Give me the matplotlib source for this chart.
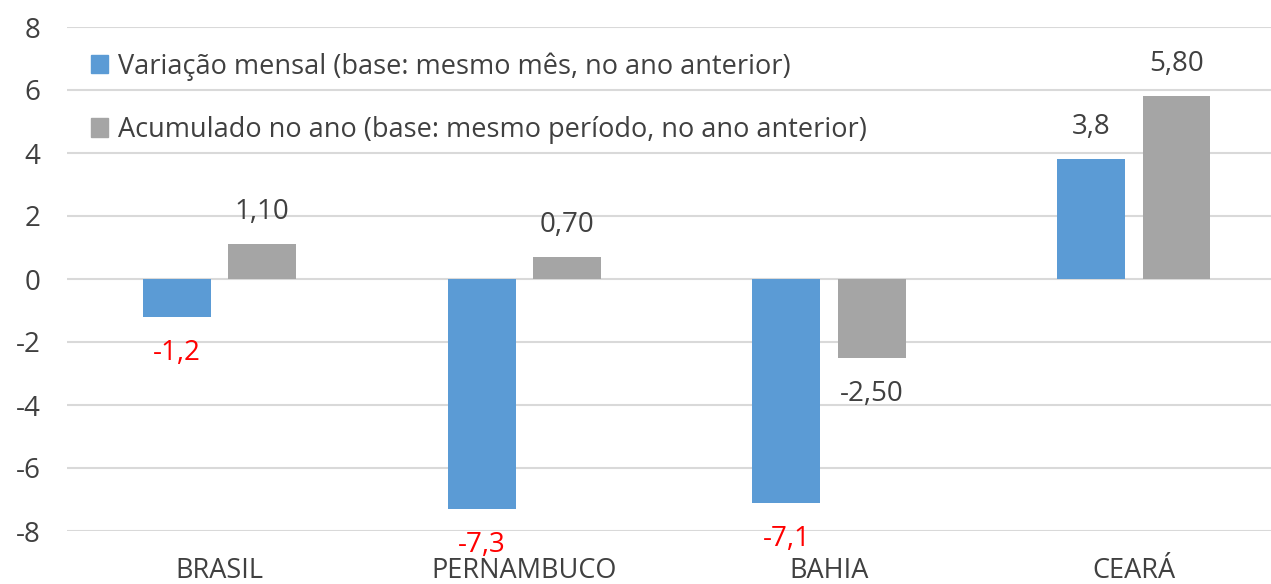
import matplotlib.pyplot as plt
import numpy as np
from matplotlib.patches import Patch

# chart data
categories = ['BRASIL', 'PERNAMBUCO', 'BAHIA', 'CEARÁ']
mensal = [-1.2, -7.3, -7.1, 3.8]
acumulado = [1.10, 0.70, -2.50, 5.80]
mensal_labels = ['-1,2', '-7,3', '-7,1', '3,8']
acumulado_labels = ['1,10', '0,70', '-2,50', '5,80']
series_names = ['Variação mensal (base: mesmo mês, no ano anterior)',
                'Acumulado no ano (base: mesmo período, no ano anterior)']

BLUE = '#5B9BD5'
GRAY = '#A5A5A5'
TEXT = '#404040'

plt.rcParams['font.family'] = ['Open Sans', 'DejaVu Sans']
plt.rcParams['axes.unicode_minus'] = False

fig = plt.figure(figsize=(12.71, 5.84), dpi=100)
ax = fig.add_axes([67 / 1271, 1 - 531 / 584, 1 - 67 / 1271, (531 - 27) / 584])

x = np.arange(len(categories))
w = 0.223
off = 0.14
b1 = ax.bar(x - off, mensal, w, color=BLUE, zorder=2)
b2 = ax.bar(x + off, acumulado, w, color=GRAY, zorder=2)

# data labels: negatives of the monthly series in red
for rect, v, lab in zip(b1, mensal, mensal_labels):
    cx = rect.get_x() + rect.get_width() / 2
    if v < 0:
        ax.annotate(lab, (cx, v), xytext=(0, -26), textcoords='offset points',
                    ha='center', va='center', fontsize=20, color='#FF0000')
    else:
        ax.annotate(lab, (cx, v), xytext=(0, 23), textcoords='offset points',
                    ha='center', va='center', fontsize=20, color=TEXT)

for rect, v, lab in zip(b2, acumulado, acumulado_labels):
    cx = rect.get_x() + rect.get_width() / 2
    dy = 23 if v >= 0 else -26
    ax.annotate(lab, (cx, v), xytext=(0, dy), textcoords='offset points',
                ha='center', va='center', fontsize=20, color=TEXT)

ax.set_xlim(-0.5, 3.45)
ax.set_ylim(-8, 8)
ax.set_yticks(np.arange(-8, 9, 2))
ax.set_xticks(x)
ax.set_xticklabels(categories)
ax.yaxis.grid(True, color='#D9D9D9', linewidth=1.5, zorder=0)
ax.set_axisbelow(True)
for s in ax.spines.values():
    s.set_visible(False)
ax.tick_params(axis='y', length=0, pad=19, labelsize=20, labelcolor=TEXT)
ax.tick_params(axis='x', length=0, pad=19, labelsize=19.5, labelcolor=TEXT)

handles = [Patch(color=BLUE), Patch(color=GRAY)]
leg = fig.legend(handles, series_names, loc='upper left',
                 bbox_to_anchor=(80 / 1271, 1 - 41.5 / 584), frameon=False,
                 fontsize=19.5, handlelength=0.65, handleheight=0.65,
                 handletextpad=0.35, labelspacing=1.3, borderaxespad=0)
for t in leg.get_texts():
    t.set_color(TEXT)

fig.savefig('out.png', dpi=100)
